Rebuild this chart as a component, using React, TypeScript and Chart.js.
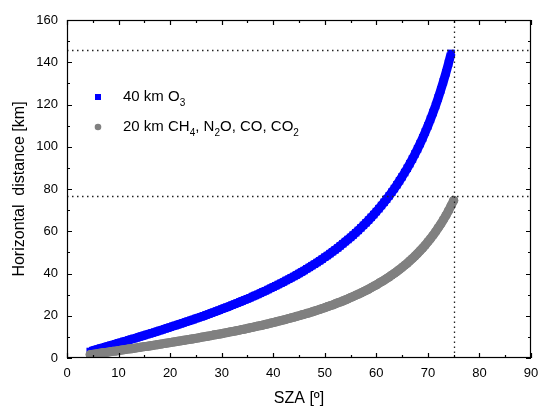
import { useEffect, useRef } from 'react';
import { Chart, registerables } from 'chart.js';

Chart.register(...registerables);

// Solar zenith angle samples [deg]
const sza = [
  4.5, 5, 5.5, 6, 6.5, 7, 7.5, 8, 8.5, 9, 9.5, 10, 10.5, 11, 11.5, 12, 12.5, 13, 13.5, 14,
  14.5, 15, 15.5, 16, 16.5, 17, 17.5, 18, 18.5, 19, 19.5, 20, 20.5, 21, 21.5, 22, 22.5,
  23, 23.5, 24, 24.5, 25, 25.5, 26, 26.5, 27, 27.5, 28, 28.5, 29, 29.5, 30, 30.5, 31,
  31.5, 32, 32.5, 33, 33.5, 34, 34.5, 35, 35.5, 36, 36.5, 37, 37.5, 38, 38.5, 39, 39.5,
  40, 40.5, 41, 41.5, 42, 42.5, 43, 43.5, 44, 44.5, 45, 45.5, 46, 46.5, 47, 47.5, 48,
  48.5, 49, 49.5, 50, 50.5, 51, 51.5, 52, 52.5, 53, 53.5, 54, 54.5, 55, 55.5, 56, 56.5,
  57, 57.5, 58, 58.5, 59, 59.5, 60, 60.5, 61, 61.5, 62, 62.5, 63, 63.5, 64, 64.5, 65,
  65.5, 66, 66.5, 67, 67.5, 68, 68.5, 69, 69.5, 70, 70.5, 71, 71.5, 72, 72.5, 73, 73.5,
  74, 74.5, 75,
];

// 40 km O3 horizontal distance [km]
const o3At40km = [
  3.1, 3.5, 3.9, 4.2, 4.6, 4.9, 5.3, 5.6, 6.0, 6.3, 6.7, 7.1, 7.4, 7.8, 8.1, 8.5, 8.9, 9.2,
  9.6, 10.0, 10.3, 10.7, 11.1, 11.5, 11.8, 12.2, 12.6, 13.0, 13.4, 13.8, 14.2, 14.6, 15.0,
  15.4, 15.8, 16.2, 16.6, 17.0, 17.4, 17.8, 18.2, 18.7, 19.1, 19.5, 19.9, 20.4, 20.8, 21.3,
  21.7, 22.2, 22.6, 23.1, 23.6, 24.0, 24.5, 25.0, 25.5, 26.0, 26.5, 27.0, 27.5, 28.0, 28.5,
  29.1, 29.6, 30.1, 30.7, 31.3, 31.8, 32.4, 33.0, 33.6, 34.2, 34.8, 35.4, 36.0, 36.7, 37.3,
  38.0, 38.6, 39.3, 40.0, 40.7, 41.4, 42.2, 42.9, 43.7, 44.4, 45.2, 46.0, 46.8, 47.7, 48.5,
  49.4, 50.3, 51.2, 52.1, 53.1, 54.1, 55.1, 56.1, 57.1, 58.2, 59.3, 60.4, 61.6, 62.8, 64.0,
  65.3, 66.6, 67.9, 69.3, 70.7, 72.2, 73.7, 75.2, 76.8, 78.5, 80.2, 82.0, 83.9, 85.8, 87.8,
  89.8, 92.0, 94.2, 96.6, 99.0, 101.5, 104.2, 107.0, 109.9, 113.0, 116.2, 119.5, 123.1,
  126.9, 130.8, 135.0, 139.5, 144.2,
];

// 20 km CH4, N2O, CO, CO2 horizontal distance [km]
const gasesAt20km = [
  1.6, 1.7, 1.9, 2.1, 2.3, 2.5, 2.6, 2.8, 3.0, 3.2, 3.3, 3.5, 3.7, 3.9, 4.1, 4.3, 4.4, 4.6,
  4.8, 5.0, 5.2, 5.4, 5.5, 5.7, 5.9, 6.1, 6.3, 6.5, 6.7, 6.9, 7.1, 7.3, 7.5, 7.7, 7.9, 8.1,
  8.3, 8.5, 8.7, 8.9, 9.1, 9.3, 9.5, 9.8, 10.0, 10.2, 10.4, 10.6, 10.9, 11.1, 11.3, 11.5,
  11.8, 12.0, 12.3, 12.5, 12.7, 13.0, 13.2, 13.5, 13.7, 14.0, 14.3, 14.5, 14.8, 15.1, 15.3,
  15.6, 15.9, 16.2, 16.5, 16.8, 17.1, 17.4, 17.7, 18.0, 18.3, 18.7, 19.0, 19.3, 19.7, 20.0,
  20.4, 20.7, 21.1, 21.4, 21.8, 22.2, 22.6, 23.0, 23.4, 23.8, 24.3, 24.7, 25.1, 25.6, 26.1,
  26.5, 27.0, 27.5, 28.0, 28.6, 29.1, 29.7, 30.2, 30.8, 31.4, 32.0, 32.6, 33.3, 34.0, 34.6,
  35.4, 36.1, 36.8, 37.6, 38.4, 39.3, 40.1, 41.0, 41.9, 42.9, 43.9, 44.9, 46.0, 47.1, 48.3,
  49.5, 50.8, 52.1, 53.5, 55.0, 56.5, 58.1, 59.8, 61.6, 63.4, 65.4, 67.5, 69.7, 72.1, 74.6,
];

// Dotted reference lines
const refLinesX = [75];
const refLinesY = [146, 76.5];

// Axis ticks
const xMajorTicks = [0, 10, 20, 30, 40, 50, 60, 70, 80, 90];
const xMinorTicks = [5, 15, 25, 35, 45, 55, 65, 75, 85];
const yMajorTicks = [0, 20, 40, 60, 80, 100, 120, 140, 160];
const yMinorTicks = [10, 30, 50, 70, 90, 110, 130, 150];

const FONT = '"Liberation Sans", Arial, Helvetica, sans-serif';

type Seg = { t: string; sub?: boolean };
const legendItems: { color: string; style: 'rect' | 'circle'; parts: Seg[] }[] = [
  { color: '#0000ff', style: 'rect', parts: [{ t: '40 km O' }, { t: '3', sub: true }] },
  {
    color: '#808080',
    style: 'circle',
    parts: [
      { t: '20 km CH' }, { t: '4', sub: true }, { t: ', N' }, { t: '2', sub: true },
      { t: 'O, CO, CO' }, { t: '2', sub: true },
    ],
  },
];

const framePlugin = {
  id: 'framePlugin',
  afterDatasetsDraw(chart: any) {
    const { ctx, chartArea: a, scales } = chart;
    ctx.save();
    // dotted reference lines (drawn over the data)
    ctx.strokeStyle = '#222';
    ctx.lineWidth = 1.3;
    ctx.setLineDash([1.5, 3.5]);
    refLinesX.forEach((v) => {
      const x = Math.round(scales.x.getPixelForValue(v)) + 0.5;
      ctx.beginPath();
      ctx.moveTo(x, a.bottom);
      ctx.lineTo(x, a.top);
      ctx.stroke();
    });
    refLinesY.forEach((v) => {
      const y = Math.round(scales.y.getPixelForValue(v)) + 0.5;
      ctx.beginPath();
      ctx.moveTo(a.left, y);
      ctx.lineTo(a.right, y);
      ctx.stroke();
    });
    ctx.setLineDash([]);
    // frame and inward ticks
    ctx.strokeStyle = '#000';
    ctx.lineWidth = 1.2;
    ctx.strokeRect(a.left + 0.5, a.top + 0.5, a.right - a.left - 1, a.bottom - a.top - 1);
    const drawX = (vals: number[], len: number) => {
      vals.forEach((v) => {
        const x = Math.round(scales.x.getPixelForValue(v)) + 0.5;
        ctx.beginPath();
        ctx.moveTo(x, a.bottom);
        ctx.lineTo(x, a.bottom - len);
        ctx.moveTo(x, a.top);
        ctx.lineTo(x, a.top + len);
        ctx.stroke();
      });
    };
    const drawY = (vals: number[], len: number) => {
      vals.forEach((v) => {
        const y = Math.round(scales.y.getPixelForValue(v)) + 0.5;
        ctx.beginPath();
        ctx.moveTo(a.left, y);
        ctx.lineTo(a.left + len, y);
        ctx.moveTo(a.right, y);
        ctx.lineTo(a.right - len, y);
        ctx.stroke();
      });
    };
    drawX(xMajorTicks, 5);
    drawX(xMinorTicks, 3);
    drawY(yMajorTicks, 5);
    drawY(yMinorTicks, 3);
    ctx.restore();
  },
  afterDraw(chart: any) {
    const { ctx } = chart;
    ctx.save();
    const symX = 98;
    const textX = 123;
    const rows = [97, 127];
    legendItems.forEach((item, i) => {
      const y = rows[i];
      ctx.fillStyle = item.color;
      if (item.style === 'rect') {
        ctx.fillRect(symX - 3, y - 3, 6, 6);
      } else {
        ctx.beginPath();
        ctx.arc(symX, y, 3.3, 0, Math.PI * 2);
        ctx.fill();
      }
      ctx.fillStyle = '#000';
      ctx.textBaseline = 'middle';
      ctx.textAlign = 'left';
      let x = textX;
      item.parts.forEach((p) => {
        if (p.sub) {
          ctx.font = `10px ${FONT}`;
          ctx.fillText(p.t, x, y + 6);
        } else {
          ctx.font = `15px ${FONT}`;
          ctx.fillText(p.t, x, y);
        }
        x += ctx.measureText(p.t).width;
      });
    });
    ctx.restore();
  },
};

export default function App() {
  const ref = useRef<HTMLCanvasElement>(null);
  useEffect(() => {
    if (!ref.current) return;
    const chart = new Chart(ref.current, {
      type: 'scatter',
      data: {
        datasets: [
          {
            label: '20 km CH4, N2O, CO, CO2',
            data: gasesAt20km.map((v, i) => ({ x: sza[i], y: v })),
            pointStyle: 'circle',
            pointRadius: 4.6,
            pointBackgroundColor: '#808080',
            pointBorderWidth: 0,
            showLine: true,
            borderColor: '#808080',
            borderWidth: 9,
            borderCapStyle: 'round',
            borderJoinStyle: 'round',
          },
          {
            label: '40 km O3',
            data: o3At40km.map((v, i) => ({ x: sza[i], y: v })),
            pointStyle: 'rect',
            pointRadius: 5.3,
            pointBackgroundColor: '#0000ff',
            pointBorderWidth: 0,
            showLine: true,
            borderColor: '#0000ff',
            borderWidth: 9,
            borderCapStyle: 'butt',
            borderJoinStyle: 'round',
          },
        ],
      },
      options: {
        responsive: false,
        animation: false,
        events: [],
        layout: { padding: { left: 0, right: 8, top: 20, bottom: 0 } },
        plugins: { legend: { display: false }, tooltip: { enabled: false } },
        scales: {
          x: {
            type: 'linear',
            min: 0,
            max: 90,
            grid: { display: false, drawTicks: false, tickLength: 0 },
            border: { display: false },
            ticks: {
              stepSize: 10,
              color: '#000',
              padding: 8,
              maxRotation: 0,
              font: { size: 13, family: FONT },
            },
            title: {
              display: true,
              text: 'SZA [º]',
              color: '#000',
              font: { size: 16, family: FONT },
              padding: { top: 0, bottom: 0 },
            },
            afterFit: (s: any) => {
              s.height = 50;
              s.paddingLeft = 0;
              s.paddingRight = 0;
            },
          },
          y: {
            type: 'linear',
            min: 0,
            max: 160,
            grid: { display: false, drawTicks: false, tickLength: 0 },
            border: { display: false },
            ticks: {
              stepSize: 20,
              color: '#000',
              padding: 9,
              font: { size: 13, family: FONT },
            },
            title: {
              display: true,
              text: 'Horizontal  distance [km]',
              color: '#000',
              font: { size: 16, family: FONT },
              padding: { top: 10, bottom: 0 },
            },
            afterFit: (s: any) => {
              s.width = 67;
              s.paddingTop = 0;
              s.paddingBottom = 0;
            },
          },
        },
      },
      plugins: [framePlugin],
    });
    return () => chart.destroy();
  }, []);
  return (
    <div style={{ position: 'fixed', left: 0, top: 0, width: 539, height: 408, background: '#fff' }}>
      <canvas ref={ref} width={539} height={408} style={{ display: 'block', width: 539, height: 408 }} />
    </div>
  );
}
